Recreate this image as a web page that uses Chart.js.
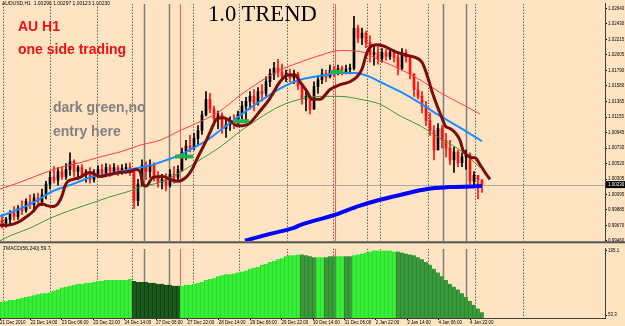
<!DOCTYPE html>
<html>
<head>
<meta charset="utf-8">
<script src="https://cdn.jsdelivr.net/npm/chart.js@4.4.1/dist/chart.umd.min.js"></script>
<style>
  body { margin: 0; background: #ffe4c4; }
  #wrap { position: relative; width: 625px; height: 326px; overflow: hidden; background: #ffe4c4; }
  canvas { position: absolute; left: 0; }
  .note { position: absolute; white-space: nowrap; line-height: 1; font-family: "Liberation Sans", Arial, sans-serif; }
  .big { font-weight: bold; font-size: 14px; }
</style>
</head>
<body>
<div id="wrap">
  <canvas id="main" width="625" height="245" style="top:0"></canvas>
  <canvas id="osc" width="625" height="81" style="top:245px"></canvas>
  <div class="note" style="left:2px;top:1px;font-size:5px;color:#000">AUDUSD,H1&nbsp; 1.00296 1.00297 1.00123 1.00230</div>
  <div class="note" style="left:208px;top:3px;font-size:22.6px;font-family:'Liberation Serif',serif;color:#000">1.0 TREND</div>
  <div class="note big" style="left:18px;top:19px;color:#f01010">AU H1</div>
  <div class="note big" style="left:18px;top:41.5px;color:#f01010">one side trading</div>
  <div class="note big" style="left:53px;top:100px;color:#808080">dark green,no</div>
  <div class="note big" style="left:53px;top:124px;color:#808080">entry here</div>
  <div class="note" style="left:3px;top:245.5px;font-size:5px;color:#000">TMACD(56,240) 59.7</div>
</div>
<script>
// AUDUSD H1, one candle per 2 hours
const candleOpen = [
  0.99741, 0.99701, 0.99754, 0.99848, 0.99795, 0.99901, 0.99875, 0.99995, 0.99955, 1.00048,
  0.99995, 1.00088, 1.00235, 1.00329, 1.00289, 1.00409, 1.00342, 1.00436, 1.00543, 1.00409,
  1.00463, 1.00369, 1.00409, 1.00302, 1.00382, 1.00436, 1.00382, 1.00463, 1.00409, 1.00463,
  1.00422, 1.00449, 1.00463, 1.00409, 1.00008, 1.00235, 1.00489, 1.00409, 1.00503, 1.00342,
  1.00262, 1.00302, 1.00222, 1.00369, 1.00329, 1.00436, 1.00676, 1.00756, 1.00730, 1.00863,
  1.00970, 1.01184, 1.01398, 1.01264, 1.01131, 1.01184, 1.00997, 1.01050, 1.01104, 1.01077,
  1.01197, 1.01304, 1.01371, 1.01438, 1.01344, 1.01505, 1.01478, 1.01638, 1.01745, 1.01825,
  1.01772, 1.01718, 1.01745, 1.01692, 1.01745, 1.01585, 1.01398, 1.01438, 1.01264, 1.01571,
  1.01665, 1.01745, 1.01705, 1.01799, 1.01772, 1.01825, 1.01772, 1.01812, 1.01825, 1.02373,
  1.02239, 1.02306, 1.02173, 1.02012, 1.02039, 1.01959, 1.02039, 1.01986, 1.02039, 1.01972,
  1.01825, 1.02039, 1.01972, 1.01745, 1.01531, 1.01438, 1.01304, 1.01104, 1.00970, 1.00703,
  1.00997, 1.00837, 1.00730, 1.00569, 1.00676, 1.00529, 1.00609, 1.00636, 1.00275, 1.00356,
  1.00296
];
const candleHigh = [
  0.99821, 0.99781, 0.99875, 0.99928, 0.99941, 1.00008, 1.00035, 1.00088, 1.00102, 1.00115,
  1.00169, 1.00275, 1.00409, 1.00476, 1.00463, 1.00476, 1.00516, 1.00663, 1.00569, 1.00489,
  1.00503, 1.00436, 1.00463, 1.00436, 1.00489, 1.00503, 1.00516, 1.00503, 1.00516, 1.00489,
  1.00503, 1.00516, 1.00529, 1.00436, 1.00302, 1.00569, 1.00543, 1.00569, 1.00529, 1.00409,
  1.00369, 1.00382, 1.00436, 1.00476, 1.00489, 1.00730, 1.00837, 1.00903, 1.00930, 1.01037,
  1.01237, 1.01505, 1.01478, 1.01304, 1.01237, 1.01211, 1.01131, 1.01157, 1.01184, 1.01237,
  1.01371, 1.01424, 1.01505, 1.01531, 1.01558, 1.01598, 1.01705, 1.01812, 1.01905, 1.01945,
  1.01879, 1.01799, 1.01812, 1.01799, 1.01772, 1.01611, 1.01505, 1.01438, 1.01638, 1.01718,
  1.01812, 1.01799, 1.01865, 1.01852, 1.01865, 1.01852, 1.01865, 1.01879, 1.02533, 1.02413,
  1.02373, 1.02333, 1.02266, 1.02133, 1.02119, 1.02092, 1.02079, 1.02092, 1.02079, 1.02012,
  1.02092, 1.02079, 1.01972, 1.01745, 1.01638, 1.01505, 1.01371, 1.01211, 1.01037, 1.01064,
  1.01037, 1.00930, 1.00837, 1.00743, 1.00703, 1.00663, 1.00703, 1.00663, 1.00409, 1.00356,
  1.00297
];
const candleLow = [
  0.99634, 0.99648, 0.99688, 0.99741, 0.99754, 0.99821, 0.99848, 0.99901, 0.99861, 0.99928,
  0.99941, 1.00035, 1.00169, 1.00249, 1.00222, 1.00302, 1.00302, 1.00356, 1.00342, 1.00302,
  1.00329, 1.00262, 1.00249, 1.00262, 1.00329, 1.00342, 1.00356, 1.00342, 1.00369, 1.00356,
  1.00369, 1.00382, 1.00356, 0.99901, 0.99941, 1.00209, 1.00302, 1.00329, 1.00275, 1.00195,
  1.00169, 1.00142, 1.00195, 1.00249, 1.00275, 1.00409, 1.00569, 1.00676, 1.00703, 1.00770,
  1.00917, 1.01171, 1.01211, 1.01037, 1.00997, 1.00930, 1.00877, 1.00970, 1.00997, 1.01024,
  1.01131, 1.01104, 1.01264, 1.01237, 1.01318, 1.01371, 1.01438, 1.01571, 1.01665, 1.01705,
  1.01665, 1.01638, 1.01638, 1.01611, 1.01531, 1.01331, 1.01237, 1.01197, 1.01264, 1.01478,
  1.01611, 1.01638, 1.01692, 1.01705, 1.01732, 1.01732, 1.01745, 1.01745, 1.01799, 1.02173,
  1.02146, 1.02106, 1.01905, 1.01865, 1.01879, 1.01905, 1.01932, 1.01945, 1.01905, 1.01732,
  1.01799, 1.01905, 1.01678, 1.01438, 1.01398, 1.01211, 1.01037, 1.00903, 1.00569, 1.00703,
  1.00730, 1.00609, 1.00503, 1.00396, 1.00476, 1.00476, 1.00436, 1.00209, 1.00195, 1.00035,
  1.00123
];
const candleClose = [
  0.99701, 0.99754, 0.99848, 0.99795, 0.99901, 0.99875, 0.99995, 0.99955, 1.00048, 0.99995,
  1.00088, 1.00235, 1.00329, 1.00289, 1.00409, 1.00342, 1.00436, 1.00543, 1.00409, 1.00463,
  1.00369, 1.00409, 1.00302, 1.00382, 1.00436, 1.00382, 1.00463, 1.00409, 1.00463, 1.00422,
  1.00449, 1.00463, 1.00409, 1.00008, 1.00235, 1.00489, 1.00409, 1.00503, 1.00342, 1.00262,
  1.00302, 1.00222, 1.00369, 1.00329, 1.00436, 1.00676, 1.00756, 1.00730, 1.00863, 1.00970,
  1.01184, 1.01398, 1.01264, 1.01131, 1.01184, 1.00997, 1.01050, 1.01104, 1.01077, 1.01197,
  1.01304, 1.01371, 1.01438, 1.01344, 1.01505, 1.01478, 1.01638, 1.01745, 1.01825, 1.01772,
  1.01718, 1.01745, 1.01692, 1.01745, 1.01585, 1.01398, 1.01438, 1.01264, 1.01571, 1.01665,
  1.01745, 1.01705, 1.01799, 1.01772, 1.01825, 1.01772, 1.01812, 1.01825, 1.02373, 1.02239,
  1.02306, 1.02173, 1.02012, 1.02039, 1.01959, 1.02039, 1.01986, 1.02039, 1.01972, 1.01825,
  1.02039, 1.01972, 1.01745, 1.01531, 1.01438, 1.01304, 1.01104, 1.00970, 1.00703, 1.00997,
  1.00837, 1.00730, 1.00569, 1.00676, 1.00529, 1.00609, 1.00636, 1.00275, 1.00356, 1.00296,
  1.00230
];

// indicator lines: positions in candle units, values in price
const wmaPos = [-0.5, 1.25, 2.75, 4.5, 6.25, 7.75, 9, 10, 11.25, 12.75, 14, 15, 15.75, 16.5, 17.75, 19.5, 20.75, 22,
  24.5, 27, 29.5, 32, 33.5, 34.5, 35.25, 36, 37.75, 40.25, 42, 44, 46.25, 47.5, 49, 50.75, 52, 53.75, 55.25, 57,
  58.75, 60.25, 62, 64.5, 67, 69.5, 71.5, 73.25, 74.5, 76.25, 77.5, 79.5, 82, 84.5, 87, 88.75, 90, 91.25, 92.5, 94,
  96.25, 98.75, 101.25, 103.25, 105, 106.25, 107.5, 109, 110, 110.75, 112, 113.25, 114.5, 115.25, 116.25, 117.5,
  118.25, 119.5, 120.75, 122];
const wmaVal = [0.99674, 0.99674, 0.99688, 0.99728, 0.99795, 0.99861, 0.99941, 0.99968, 0.99941, 0.99928, 0.99968,
  1.00075, 1.00209, 1.00275, 1.00302, 1.00329, 1.00369, 1.00396, 1.00342, 1.00369, 1.00396, 1.00409, 1.00436,
  1.00409, 1.00235, 1.00209, 1.00329, 1.00342, 1.00302, 1.00275, 1.00342, 1.00436, 1.00609, 1.00797, 1.00944,
  1.01131, 1.01144, 1.01104, 1.01037, 1.01037, 1.01077, 1.01237, 1.01411, 1.01638, 1.01732, 1.01732, 1.01638,
  1.01505, 1.01398, 1.01398, 1.01531, 1.01598, 1.01638, 1.01705, 1.01812, 1.02039, 1.02133, 1.02146, 1.02106,
  1.02039, 1.01999, 1.01972, 1.01905, 1.01732, 1.01505, 1.01277, 1.01144, 1.01037, 1.00997, 1.00944, 1.00837,
  1.00703, 1.00636, 1.00596, 1.00596, 1.00503, 1.00396, 1.00302];

const emaPos = [-0.5, 2.75, 6.25, 9.5, 12.75, 16.25, 19.5, 22.75, 26.25, 29.5, 34.5, 37.75, 41.25, 44.5, 47.75, 51.25,
  54.5, 57.75, 62, 64.5, 69.5, 74.5, 79.5, 84.5, 88.25, 92, 94.5, 99.5, 104.5, 109.5, 114.5, 120];
const emaVal = [0.99795, 0.99861, 0.99941, 1.00035, 1.00142, 1.00209, 1.00275, 1.00342, 1.00369, 1.00409, 1.00463,
  1.00503, 1.00569, 1.00636, 1.00730, 1.00837, 1.00970, 1.01104, 1.01277, 1.01371, 1.01545, 1.01665, 1.01718,
  1.01758, 1.01758, 1.01705, 1.01638, 1.01505, 1.01344, 1.01171, 1.01010, 1.00823];

const bandPos = [-0.5, 4.5, 9.5, 14.5, 19.5, 24.5, 29.5, 34.5, 39.5, 44.5, 49.5, 54.5, 59.5, 64.5, 69.5, 74.5, 79.5,
  84.5, 89.5, 94.5, 99.5, 104.5, 109.5, 114.5, 119.5];
const bandUpper = [1.00169, 1.00262, 1.00369, 1.00463, 1.00529, 1.00609, 1.00676, 1.00770, 1.00837, 1.00970, 1.01090,
  1.01237, 1.01451, 1.01638, 1.01799, 1.01905, 1.01999, 1.02066, 1.02052, 1.01932, 1.01812, 1.01665, 1.01491,
  1.01344, 1.01197];
const lowerPos = [-0.5, 2, 7, 12, 17, 22, 27, 32, 34.5, 39.5, 44.5, 49.5, 54.5, 59.5, 64.5, 69.5, 74.5, 79.5, 84.5,
  89.5, 94.5, 99.5, 104.5, 109.5, 114.5, 119.5];
const bandLower = [0.99461, 0.99528, 0.99634, 0.99768, 0.99875, 0.99968, 1.00062, 1.00142, 1.00195, 1.00262, 1.00396,
  1.00569, 1.00743, 1.00957, 1.01144, 1.01304, 1.01398, 1.01438, 1.01438, 1.01398, 1.01331, 1.01171, 1.01037,
  1.00863, 1.00703, 1.00463];

const slowPos = [60.75, 67, 72.75, 74.5, 82.75, 89.5, 94.5, 99.5, 106.25, 112, 120];
const slowVal = [0.99461, 0.99554, 0.99634, 0.99674, 0.99808, 0.99941, 1.00022, 1.00088, 1.00169, 1.00195, 1.00209];

// green entry marks
const markStart = [43.25, 57.75, 82];
const markEnd = [47.75, 61.75, 85.25];
const markPrice = [1.00616, 1.01097, 1.01772];

// vertical lines on the time axis
const daySeparators = [0.25, 12, 23.75, 32.5, 47.75, 59.25, 71.25, 82.75, 91.25, 94.5, 106.5, 118.25, 130.25];
const greyLines = [35.5, 41.75, 110.25, 116];
const redLines = [44.5, 83.25];

const priceTicks = [1.02640, 1.02430, 1.02215, 1.02005, 1.01790, 1.01580, 1.01365, 1.01155, 1.00945, 1.00730,
  1.00520, 1.00305, 1.00095, 0.99885, 0.99670, 0.99460];

// TMACD(56,240) histogram
const oscValues = [
  82.5, 84.6, 86.7, 86.7, 88.7, 90.8, 92.9, 95.0, 97.1, 99.2,
  101.3, 101.3, 103.3, 107.5, 109.6, 113.8, 115.9, 117.9, 120.0, 122.1,
  122.1, 124.2, 124.2, 126.3, 128.4, 128.4, 130.4, 130.4, 130.4, 130.4,
  130.4, 130.4, 132.5, 128.4, 126.3, 126.3, 126.3, 124.2, 124.2, 122.1,
  122.1, 120.0, 120.0, 117.9, 117.9, 117.9, 120.0, 120.0, 122.1, 124.2,
  126.3, 130.4, 132.5, 134.6, 138.8, 140.9, 143.0, 143.0, 145.0, 147.1,
  149.2, 151.3, 155.5, 157.6, 159.6, 163.8, 165.9, 170.1, 172.1, 176.3,
  178.4, 182.6, 184.7, 184.7, 186.7, 186.7, 184.7, 182.6, 180.5, 180.5,
  180.5, 180.5, 182.6, 182.6, 182.6, 182.6, 182.6, 182.6, 184.7, 186.7,
  188.8, 190.9, 193.0, 195.1, 195.1, 195.1, 195.1, 195.1, 193.0, 193.0,
  190.9, 188.8, 186.7, 184.7, 180.5, 176.3, 170.1, 163.8, 155.5, 147.1,
  138.8, 130.4, 122.1, 115.9, 109.6, 101.3, 92.9, 84.6, 76.2, 67.9,
  59.7
];
const oscShade = (
  'LLLLLLLLLLLLLLLLLLLLLLLLLLLLLLLLL' + 'DDDDDDDDDDDD' + 'LLLLLLLLLLLLLLLLLLLLLLLLLLLLLL' +
  'MMMM' + 'LL' + 'MMM' + 'LL' + 'MM' + 'LLLLLLLLLLL' + 'MMMMMMMMMMMMMMMMMMMMMM'
).split('');
const oscTicks = [195.1, 53.3];

const timeTickPos = [-0.5, 7.1, 14.95, 22.8, 30.65, 38.5, 46.35, 54.2, 62.05, 69.9, 77.75, 85.6, 93.45, 101.3, 109.15, 117];
const timeTickLabels = ['21 Dec 2010', '22 Dec 14:00', '23 Dec 06:00', '23 Dec 22:00', '24 Dec 14:00', '27 Dec 06:00',
  '27 Dec 22:00', '28 Dec 14:00', '29 Dec 06:00', '29 Dec 22:00', '30 Dec 14:00', '31 Dec 06:00', '2 Jan 22:00',
  '3 Jan 14:00', '4 Jan 06:00', '4 Jan 22:00'];

Chart.defaults.font.family = "'Liberation Sans', Arial, sans-serif";
Chart.defaults.color = '#000';

const xMin = -0.5, xMax = 150.75;
const idx = candleClose.map((_, i) => i);
const lastPrice = candleClose[candleClose.length - 1];
const candleColor = c => candleClose[c.dataIndex] >= candleOpen[c.dataIndex] ? '#000000' : '#ff1010';
const pts = (xs, ys) => xs.map((x, i) => ({ x, y: ys[i] }));
const tickFont = { size: 4.5 };

const shadeFill = { L: '#38f038', D: '#1c5c1c', M: '#3b9b3b' };
const shadeEdge = { L: '#2ccc2c', D: '#0b300b', M: '#2a7a2a' };

const verticals = {
  id: 'verticals',
  beforeDatasetsDraw(chart) {
    const { ctx, chartArea: a, scales: { x, y } } = chart;
    ctx.save();
    ctx.beginPath();
    ctx.rect(a.left, a.top, a.right - a.left, a.bottom - a.top);
    ctx.clip();
    const vline = (v, color, width, dash) => {
      const px = Math.round(x.getPixelForValue(v)) + 0.5;
      ctx.strokeStyle = color;
      ctx.lineWidth = width;
      ctx.setLineDash(dash);
      ctx.beginPath();
      ctx.moveTo(px, a.top);
      ctx.lineTo(px, a.bottom);
      ctx.stroke();
    };
    daySeparators.forEach(v => vline(v, '#202020', 1, [1, 2]));
    greyLines.forEach(v => vline(v, '#7d7d7d', 1.5, []));
    redLines.forEach(v => vline(v, '#ff5a5a', 1, []));
    if (chart.canvas.id === 'main') {
      const py = Math.round(y.getPixelForValue(lastPrice)) + 0.5;
      ctx.setLineDash([]);
      ctx.strokeStyle = '#a8a8a8';
      ctx.lineWidth = 1;
      ctx.beginPath();
      ctx.moveTo(a.left, py);
      ctx.lineTo(a.right, py);
      ctx.stroke();
    }
    ctx.restore();
  }
};

const priceBox = {
  id: 'priceBox',
  afterDraw(chart) {
    const { ctx, chartArea: a, scales: { y } } = chart;
    ctx.save();
    ctx.fillStyle = '#555';
    ctx.fillRect(0, a.bottom, chart.width, 2);
    const py = y.getPixelForValue(lastPrice);
    ctx.fillStyle = '#000';
    ctx.fillRect(a.right + 1, py - 3.5, chart.width - a.right - 1, 7);
    ctx.fillStyle = '#fff';
    ctx.font = "4.5px 'Liberation Sans', Arial, sans-serif";
    ctx.textBaseline = 'middle';
    ctx.fillText(lastPrice.toFixed(5), a.right + 3, py);
    ctx.restore();
  }
};

const lineSet = (data, color, width, order) => ({
  type: 'line', data, borderColor: color, borderWidth: width, pointRadius: 0,
  cubicInterpolationMode: 'monotone', order
});

const datasets = [
  { type: 'bar', data: idx.map(i => ({ x: i, y: [candleLow[i], candleHigh[i]] })),
    backgroundColor: candleColor, barThickness: 1, grouped: false, order: 20 },
  { type: 'bar', data: idx.map(i => ({ x: i, y: [candleOpen[i], candleClose[i]] })),
    backgroundColor: candleColor, barThickness: 2, grouped: false, order: 19 },
  lineSet(pts(bandPos, bandUpper), '#ff4040', 1, 8),
  lineSet(pts(lowerPos, bandLower), '#3a9a3a', 1, 7),
  lineSet(pts(emaPos, emaVal), '#1e8cff', 2, 6),
  lineSet(pts(slowPos, slowVal), '#0000ff', 4, 5),
  lineSet(pts(wmaPos, wmaVal), '#7a0c0c', 3, 4)
];
markStart.forEach((s, i) => {
  datasets.push(lineSet([{ x: s, y: markPrice[i] }, { x: markEnd[i], y: markPrice[i] }], '#24b04a', 4, 1));
});

new Chart(document.getElementById('main'), {
  type: 'bar',
  data: { datasets },
  options: {
    responsive: false,
    animation: false,
    events: [],
    layout: { padding: { top: 0, right: 0, bottom: 2, left: 0 } },
    plugins: { legend: { display: false }, tooltip: { enabled: false } },
    scales: {
      x: { type: 'linear', min: xMin, max: xMax, offset: false, display: false, grid: { offset: false } },
      y: {
        position: 'right', min: 0.99453, max: 1.02707,
        afterBuildTicks: s => { s.ticks = priceTicks.map(v => ({ value: v })); },
        afterFit: s => { s.width = 20; },
        ticks: { font: tickFont, padding: 1, autoSkip: false, callback: v => v.toFixed(5) },
        grid: { drawOnChartArea: false, tickLength: 2, color: '#000' },
        border: { display: true, color: '#404040', width: 1 }
      }
    }
  },
  plugins: [verticals, priceBox]
});

new Chart(document.getElementById('osc'), {
  type: 'bar',
  data: {
    datasets: [{
      data: idx.map(i => ({ x: i, y: oscValues[i] })),
      backgroundColor: c => shadeFill[oscShade[c.dataIndex]],
      borderColor: c => shadeEdge[oscShade[c.dataIndex]],
      borderWidth: { left: 1, right: 0, top: 0, bottom: 0 },
      borderSkipped: false,
      barThickness: 4,
      grouped: false
    }]
  },
  options: {
    responsive: false,
    animation: false,
    events: [],
    layout: { padding: 0 },
    plugins: { legend: { display: false }, tooltip: { enabled: false } },
    scales: {
      x: {
        type: 'linear', min: xMin, max: xMax, offset: false,
        afterBuildTicks: s => { s.ticks = timeTickPos.map(v => ({ value: v })); },
        afterFit: s => { s.height = 8; },
        ticks: { font: tickFont, align: 'start', autoSkip: false, maxRotation: 0, padding: 0,
          callback: (v, i) => timeTickLabels[i] },
        grid: { drawOnChartArea: false, offset: false, tickLength: 2, color: '#000' },
        border: { display: true, color: '#404040', width: 1 }
      },
      y: {
        position: 'right', min: 47.04, max: 199.27,
        afterBuildTicks: s => { s.ticks = oscTicks.map(v => ({ value: v })); },
        afterFit: s => { s.width = 20; },
        ticks: { font: tickFont, padding: 1, autoSkip: false, callback: v => v.toFixed(1) },
        grid: { drawOnChartArea: false, tickLength: 2, color: '#000' },
        border: { display: true, color: '#404040', width: 1 }
      }
    }
  },
  plugins: [verticals]
});
</script>
</body>
</html>
